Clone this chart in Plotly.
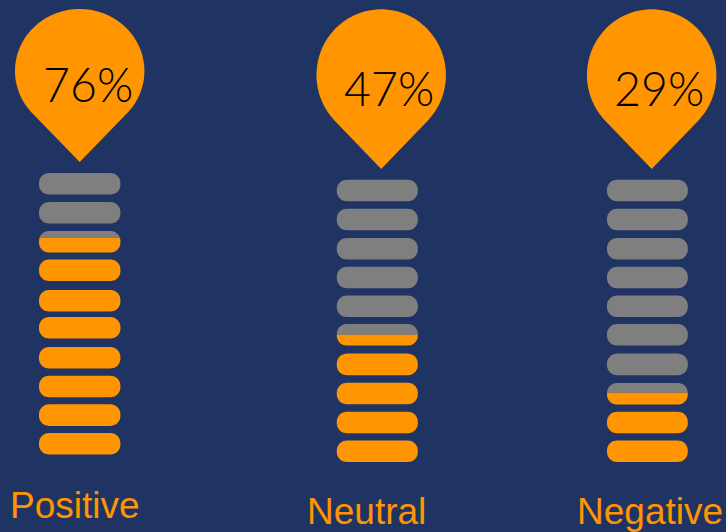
import numpy as np
import plotly.graph_objects as go

# ---- data ----
categories = ["Positive", "Neutral", "Negative"]
percent_labels = ["76%", "47%", "29%"]
bars_total = 10
filled_bars = [7.68, 4.5, 2.55]

# ---- layout constants (pixels) ----
W, H = 726, 532
BG = "#203464"
ORANGE = "#FF9500"
GRAY = "#7F7F7F"
BAR_H = 21.6
BAR_R = 10.0
bar_x = [(39.0, 120.4), (336.8, 417.8), (607.0, 687.8)]
bar_tops = [
    [433.0, 404.3, 375.7, 347.0, 317.0, 290.0, 259.5, 231.0, 202.0, 173.0],
    [440.5, 411.7, 382.7, 353.6, 324.0, 295.5, 266.7, 238.0, 208.7, 179.7],
    [440.4, 411.7, 383.0, 353.6, 324.0, 295.5, 266.7, 238.0, 208.7, 179.7],
]
pin_cx = [79.7, 381.2, 651.7]
pin_rx = 64.7
pin_top = [9.0, 9.3, 9.3]
pin_cy = [71.0, 75.0, 75.0]
pin_tip = [162.0, 169.0, 169.0]
pct_xy = [(87.5, 83.5), (388.5, 88), (658.5, 88)]
label_xy = [(75, 505), (366.5, 511.5), (649.5, 511.5)]
PCT_SIZE = 46.5
LABEL_SIZE = 37


def pill_part(x0, x1, top, y_from, y_to):
    """Polygon of the part of a rounded bar between y_from and y_to."""
    ys = np.linspace(y_from, y_to, 40)
    d = np.minimum(ys - top, top + BAR_H - ys)
    gap = np.clip(BAR_R - d, 0, BAR_R)
    inset = BAR_R - np.sqrt(np.maximum(BAR_R**2 - gap**2, 0))
    xs = np.r_[x0 + inset, (x1 - inset)[::-1], x0 + inset[0]]
    yy = np.r_[ys, ys[::-1], ys[0]]
    return xs.tolist(), yy.tolist()


def pin_outline(cx, rx, top, cy, tip):
    ry = cy - top
    t = (tip - cy) / ry
    a_end = np.arcsin(1 / t)
    ang = np.linspace(np.pi - a_end, 2 * np.pi + a_end, 160)
    xs = cx + rx * np.cos(ang)
    ys = cy + ry * np.sin(ang)
    return np.r_[cx, xs, cx].tolist(), np.r_[tip, ys, tip].tolist()


fig = go.Figure()
gray_x, gray_y, orange_x, orange_y = [], [], [], []
for c in range(len(categories)):
    x0, x1 = bar_x[c]
    for i in range(bars_total):
        top = bar_tops[c][i]
        frac = np.clip(filled_bars[c] - i, 0, 1)
        cut = top + BAR_H * (1 - frac)
        if frac < 1:
            px, py = pill_part(x0, x1, top, top, cut)
            gray_x += px + [None]
            gray_y += py + [None]
        if frac > 0:
            px, py = pill_part(x0, x1, top, cut, top + BAR_H)
            orange_x += px + [None]
            orange_y += py + [None]

for xs, ys, col in ((gray_x, gray_y, GRAY), (orange_x, orange_y, ORANGE)):
    fig.add_trace(go.Scatter(x=xs, y=ys, mode="lines", fill="toself", fillcolor=col,
                             line=dict(width=0, color=col, simplify=False),
                             hoverinfo="skip", showlegend=False))

for c in range(len(categories)):
    px, py = pin_outline(pin_cx[c], pin_rx, pin_top[c], pin_cy[c], pin_tip[c])
    fig.add_trace(go.Scatter(x=px, y=py, mode="lines", fill="toself", fillcolor=ORANGE,
                             line=dict(width=0, color=ORANGE, simplify=False),
                             hoverinfo="skip", showlegend=False))
    fig.add_annotation(x=pct_xy[c][0], y=pct_xy[c][1], text=percent_labels[c], showarrow=False,
                       xanchor="center", yanchor="middle",
                       font=dict(family="Lato, 'Open Sans', sans-serif", size=PCT_SIZE, color="#000000", weight=300))
    fig.add_annotation(x=label_xy[c][0], y=label_xy[c][1], text=categories[c], showarrow=False,
                       xanchor="center", yanchor="middle",
                       font=dict(family="Liberation Sans, Arial, sans-serif", size=LABEL_SIZE, color=ORANGE))

fig.update_layout(
    width=W, height=H, margin=dict(l=0, r=0, t=0, b=0),
    paper_bgcolor=BG, plot_bgcolor=BG,
    xaxis=dict(range=[0, W], visible=False, fixedrange=True),
    yaxis=dict(range=[H, 0], visible=False, fixedrange=True),
    showlegend=False,
)
fig.write_html("out.html", config={"displayModeBar": False},
               post_script="document.body.style.margin='0';document.body.style.background='%s';" % BG)
